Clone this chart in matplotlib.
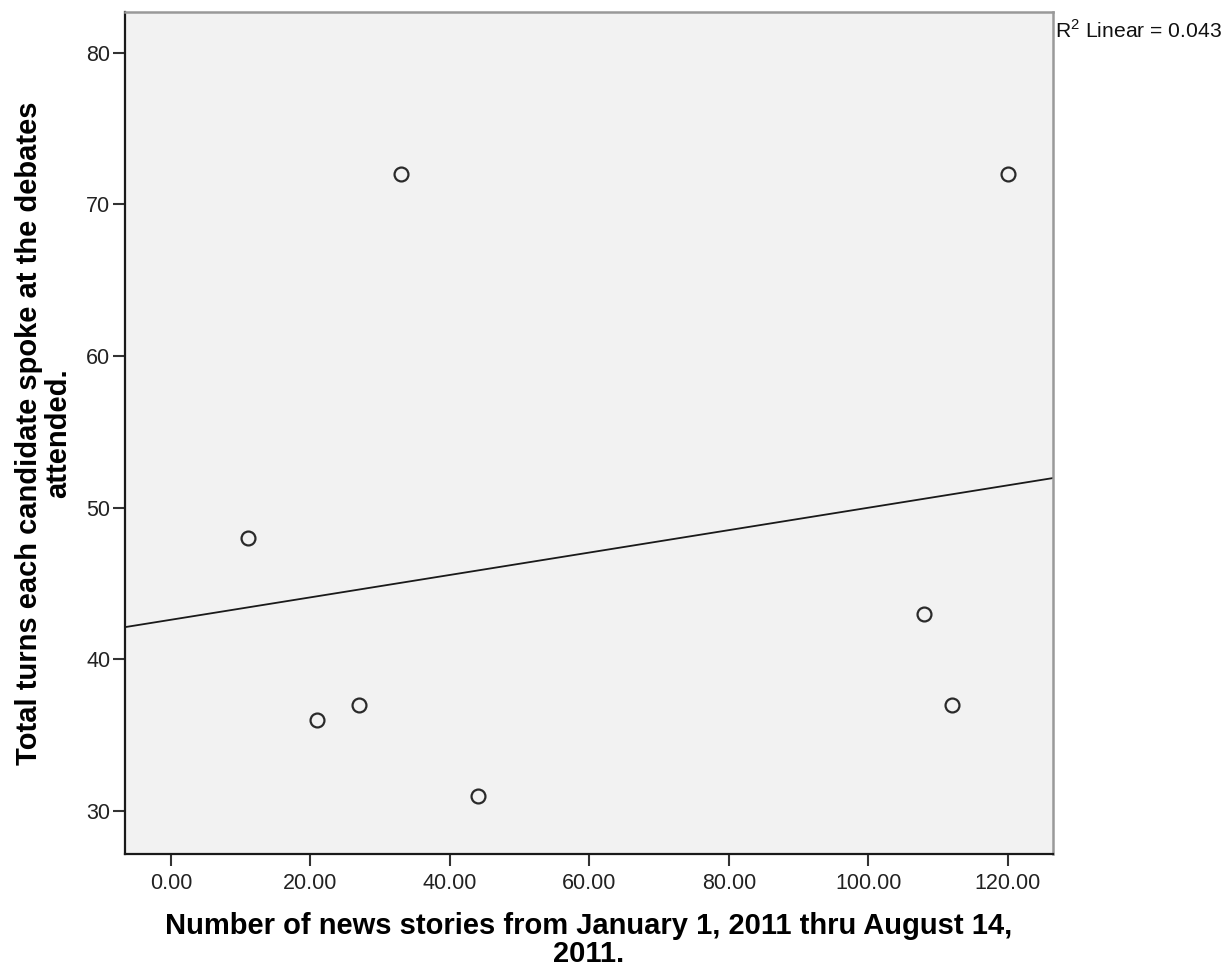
import numpy as np
import matplotlib.pyplot as plt

plt.rcParams['font.family'] = ['Liberation Sans', 'DejaVu Sans']
plt.rcParams['mathtext.fontset'] = 'custom'
plt.rcParams['mathtext.rm'] = 'Liberation Sans'

# news stories (x) vs total turns spoken (y)
news_stories = [11, 21, 27, 33, 44, 108, 112, 120]
total_turns = [48, 36, 37, 72, 31, 43, 37, 72]
x_ticks = [0, 20, 40, 60, 80, 100, 120]
y_ticks = [30, 40, 50, 60, 70, 80]

x = np.array(news_stories, dtype=float)
y = np.array(total_turns, dtype=float)

# linear fit and R squared
slope, intercept = np.polyfit(x, y, 1)
r2 = np.corrcoef(x, y)[0, 1] ** 2

fig = plt.figure(figsize=(12.31, 9.72), dpi=100)
ax = fig.add_axes([0.1015, 0.1214, 0.7539, 0.8663])
ax.set_facecolor('#f2f2f2')

xlim = (-6.6, 126.5)
ax.set_xlim(*xlim)
ax.set_ylim(27.15, 82.7)

# fit line across the whole plot area
xs = np.array(xlim)
ax.plot(xs, intercept + slope * xs, color='#1a1a1a', lw=1.3, zorder=2)

ax.plot(x, y, linestyle='none', marker='o', markersize=10,
        markerfacecolor='none', markeredgecolor='#2a2a2a',
        markeredgewidth=1.6, zorder=3)

ax.set_xticks(x_ticks)
ax.set_xticklabels([f'{t:.2f}' for t in x_ticks])
ax.set_yticks(y_ticks)
ax.tick_params(axis='both', direction='out', length=8.5, width=1.5,
               color='#333333', labelsize=15.5, labelcolor='#222222', pad=2)
ax.tick_params(axis='x', pad=5)

for side in ['left', 'bottom']:
    ax.spines[side].set_color('#1a1a1a')
    ax.spines[side].set_linewidth(1.6)
for side in ['top', 'right']:
    ax.spines[side].set_color('#999999')
    ax.spines[side].set_linewidth(1.8)

ax.set_xlabel('Number of news stories from January 1, 2011 thru August 14,\n2011.',
              fontsize=21, fontweight='bold', linespacing=1.0, labelpad=13)
ax.set_ylabel('Total turns each candidate spoke at the debates\nattended.',
              fontsize=21, fontweight='bold', linespacing=1.05, labelpad=10)

fig.text(0.857, 0.969, f'R$^2$ Linear = {r2:.3f}', fontsize=15.2,
         color='#111111', ha='left', va='center')

fig.savefig('out.png', dpi=100)
